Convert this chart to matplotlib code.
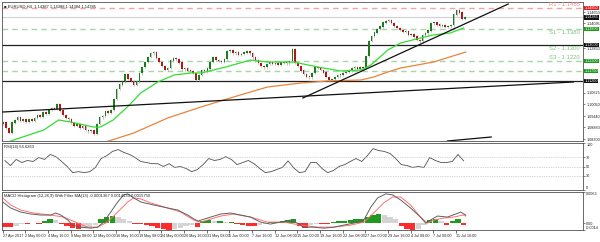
import matplotlib
matplotlib.use("Agg")
import matplotlib.pyplot as plt
import matplotlib.transforms as mtransforms

plt.rcParams["font.family"] = ["Liberation Sans", "DejaVu Sans"]

# EURUSD H4 - closes read every 2 bars (8h) off the chart
closes = [
    1.0915, 1.0885, 1.0862, 1.0912, 1.0925, 1.0938, 1.0920, 1.0928, 1.0915, 1.0930,
    1.0922, 1.0935, 1.0948, 1.0940, 1.0962, 1.0955, 1.0975, 1.0985, 1.0980, 1.1005,
    1.0972, 1.0950, 1.0935, 1.0928, 1.0910, 1.0895, 1.0902, 1.0885, 1.0892, 1.0875,
    1.0868, 1.0872, 1.0856, 1.0905, 1.0938, 1.0945, 1.0968, 1.0962, 1.0975, 1.1030,
    1.1080, 1.1102, 1.1118, 1.1155, 1.1132, 1.1120, 1.1102, 1.1118, 1.1158, 1.1190,
    1.1215, 1.1240, 1.1258, 1.1262, 1.1235, 1.1215, 1.1195, 1.1175, 1.1185, 1.1222,
    1.1235, 1.1228, 1.1212, 1.1178, 1.1182, 1.1172, 1.1168, 1.1160, 1.1125, 1.1150,
    1.1175, 1.1168, 1.1182, 1.1215, 1.1238, 1.1225, 1.1220, 1.1215, 1.1228, 1.1268,
    1.1272, 1.1258, 1.1262, 1.1250, 1.1255, 1.1262, 1.1270, 1.1258, 1.1238, 1.1222,
    1.1210, 1.1195, 1.1188, 1.1205, 1.1212, 1.1205, 1.1210, 1.1202, 1.1212, 1.1215,
    1.1208, 1.1218, 1.1280, 1.1210, 1.1195, 1.1172, 1.1155, 1.1142, 1.1138, 1.1160,
    1.1188, 1.1185, 1.1175, 1.1162, 1.1140, 1.1125, 1.1130, 1.1140, 1.1148, 1.1152,
    1.1160, 1.1165, 1.1172, 1.1185, 1.1188, 1.1182, 1.1190, 1.1185, 1.1245, 1.1320,
    1.1345, 1.1362, 1.1380, 1.1392, 1.1412, 1.1420, 1.1425, 1.1410, 1.1395, 1.1385,
    1.1375, 1.1365, 1.1368, 1.1352, 1.1355, 1.1342, 1.1325, 1.1318, 1.1350, 1.1358,
    1.1372, 1.1408, 1.1412, 1.1402, 1.1395, 1.1398, 1.1390, 1.1394, 1.1398, 1.1452,
    1.1472, 1.1462, 1.1432, 1.1438,
]
first_open = 1.0905

# moving averages (bar index, price)
ma_fast_bars = [0, 5.6, 29, 39.5, 48, 64, 69, 78, 88, 97.5, 109.5, 121, 133, 140, 157.5,
                175, 187, 205.5, 222.5, 238.7, 253, 260, 272, 281, 295, 304, 316, 325.5]
ma_fast = [1.0800, 1.0820, 1.0875, 1.0925, 1.0915, 1.0890, 1.0890, 1.0925, 1.0990, 1.1060,
           1.1115, 1.1150, 1.1160, 1.1160, 1.1190, 1.1225, 1.1215, 1.1215, 1.1190, 1.1170,
           1.1175, 1.1200, 1.1275, 1.1310, 1.1335, 1.1350, 1.1360, 1.1385]
ma_slow_bars = [69.2, 74.9, 92.5, 116.5, 140, 163, 187, 210.5, 229.5, 253, 262, 272, 281, 304.4, 327]
ma_slow = [1.0810, 1.0820, 1.0860, 1.0935, 1.0990, 1.1040, 1.1090, 1.1110, 1.1120, 1.1125,
           1.1140, 1.1165, 1.1185, 1.1215, 1.1265]

# support / resistance
levels = [1.1485, 1.1380, 1.1300, 1.1220, 1.1170, 1.1120]
level_names = ["R1 - 1.1485", "S1 - 1.1380", "S2 - 1.1300", "S3 - 1.1220", "", ""]
current_price = 1.14385

# trendlines (bar, price)
trend_long = ([0, 403], [1.0965, 1.1115])
trend_steep = ([212, 357], [1.1035, 1.1505])
trend_short = ([314, 345], [1.0820, 1.0840])

price_ticks = [1.14650, 1.14095, 1.12850, 1.10625, 1.10050, 1.09440, 1.08880, 1.08300]

# RSI and MACD histogram, one value per 4 bars
rsi = [62.8, 52, 65, 58.5, 62.8, 60.7, 69, 65, 75.6, 71,
       61, 50, 37, 39, 37, 39, 48, 67, 73, 82,
       86, 80, 75.6, 69, 60.7, 58.5, 56, 56, 50, 56,
       48, 50, 45.7, 39, 43.6, 54, 67, 62.8, 65, 71,
       65, 54, 58.5, 62.8, 56, 45.7, 37, 39, 43.6, 48,
       62, 47, 37, 39, 58.5, 58.5, 45.7, 37, 41.5, 50,
       54, 60.7, 67, 60.7, 73, 88, 84, 82, 77.7, 67,
       54, 52, 48, 50, 48, 69, 62.8, 58.5, 58.5, 60.7,
       75.6, 62]
hist = [-0.0008, -0.0008, -0.0006, -0.0002, -0.0002, 0.0001, -0.0002, 0.0004, 0.0008, 0.0006,
        -0.0002, -0.0006, -0.0010, -0.0012, -0.0010, -0.0008, -0.0004, 0.0008, 0.0012, 0.0014,
        0.0012, 0.0008, 0.0004, -0.0002, -0.0002, -0.0004, -0.0006, -0.0010, -0.0012, -0.0014,
        -0.0012, -0.0010, -0.0006, -0.0004, -0.0008, 0.0004, 0.0006, 0.0004, 0.0004, 0.0002,
        0.0002, -0.0002, -0.0004, -0.0006, -0.0006, -0.0004, -0.0002, 0.0002, 0.0002, 0.0004,
        0.0006, 0.0008, -0.0006, -0.0010, -0.0004, -0.0002, -0.0002, -0.0002, 0.0002, 0.0004,
        0.0004, 0.0006, 0.0008, 0.0008, 0.0012, 0.0016, 0.0018, 0.0016, 0.0012, 0.0008,
        -0.0006, -0.0012, -0.0014, -0.0012, -0.0004, 0.0006, 0.0008, 0.0004, -0.0004, 0.0004,
        0.0008, -0.0004]

macd_bars = [0, 5.6, 12.7, 19.8, 26.8, 33.9, 37.4, 41, 46, 49.4, 55, 62, 67, 71.3, 76.3,
             81.2, 85.5, 88.3, 92.5, 97.5, 106.6, 116.5, 123.6, 130.6, 137.7, 146.9, 154, 161,
             168, 175, 182, 189, 196, 203, 208, 212.6, 219.6, 226.7, 233.8, 240.8, 247.9, 255,
             260, 264.8, 270.5, 275.4, 281, 288, 295, 298.7, 302, 307, 314, 320, 323.4, 327]
macd_main = [0.00428, 0.00306, 0.00224, 0.00184, 0.00163, 0.00163, 0.00204, 0.00163, 0.00061,
             -0.00041, -0.00082, -0.00102, -0.00082, 0.00020, 0.00224, 0.00428, 0.00571,
             0.00592, 0.00510, 0.00428, 0.00367, 0.00306, 0.00265, 0.00163, 0.00040, 0.00122,
             0.00184, 0.00204, 0.00163, 0.00122, 0.00020, -0.00020, 0.00020, 0.00061, 0.00000,
             -0.00082, -0.00082, -0.00102, -0.00082, -0.00041, 0.00000, 0.00061, 0.00326,
             0.00510, 0.00592, 0.00571, 0.00469, 0.00306, 0.00122, 0.00000, 0.00061, 0.00143,
             0.00122, 0.00184, 0.00224, 0.00163]
signal_bars = [0, 5.6, 12.7, 21.9, 33.9, 43, 53, 60, 67, 74, 81.2, 88.3, 92.5, 97.5, 104.5,
               116.5, 125.7, 134.9, 139.8, 154, 163, 175, 187, 198.4, 210.5, 222.5, 233.8,
               245.8, 255, 262, 269, 275.4, 281, 288, 295, 300, 304.4, 311.4, 318.5, 325, 327]
macd_signal = [0.0051, 0.00367, 0.00265, 0.00204, 0.00163, 0.00122, 0.0, -0.00082, -0.00082,
               0.0002, 0.00224, 0.00428, 0.0051, 0.0049, 0.00408, 0.00306, 0.00224, 0.00061,
               0.0002, 0.00143, 0.00184, 0.00122, 0.0002, 0.0002, -0.00041, -0.00082, -0.00082,
               -0.00041, 0.0002, 0.00204, 0.00408, 0.0053, 0.0053, 0.00367, 0.00122, 0.0,
               0.00061, 0.00102, 0.00122, 0.00163, 0.00143]

date_labels = ["27 Apr 2017", "2 May 00:00", "4 May 16:00", "9 May 08:00", "12 May 00:00",
               "16 May 16:00", "19 May 08:00", "24 May 00:00", "26 May 16:00", "31 May 08:00",
               "5 Jun 00:00", "7 Jun 16:00", "12 Jun 08:00", "15 Jun 00:00", "19 Jun 16:00",
               "22 Jun 08:00", "27 Jun 00:00", "29 Jun 16:00", "4 Jul 08:00", "7 Jul 00:00",
               "11 Jul 16:00"]

W, H = 600, 242
fig = plt.figure(figsize=(W / 100, H / 100), dpi=100, facecolor="white")
FS = 2.7


def panel(top, bottom):
    a = fig.add_axes([2 / W, 1 - bottom / H, 581 / W, (bottom - top) / H])
    a.set_xlim(-0.5, 409.8)
    for s in a.spines.values():
        s.set_color("#505050")
        s.set_linewidth(0.6)
    a.yaxis.tick_right()
    a.tick_params(axis="y", labelsize=FS, length=1.5, width=0.4, pad=0.8, colors="#202020")
    a.set_xticks([])
    return a


ax = panel(2, 141)
ax2 = panel(143, 190)
ax3 = panel(192, 230)

# ---- main price panel
ax.set_ylim(1.0820, 1.1515)
opens = [first_open] + closes[:-1]
xs = [2 * i + 0.5 for i in range(len(closes))]
pad = 0.0007
lo = [min(o, c) - pad for o, c in zip(opens, closes)]
hi = [max(o, c) + pad for o, c in zip(opens, closes)]
ax.vlines(xs, lo, hi, color="#a8a8a8", lw=0.5, zorder=2)
body_col = ["#1d7a1d" if c >= o else "#b01818" for o, c in zip(opens, closes)]
ax.bar(xs, [abs(c - o) + 0.00015 for o, c in zip(opens, closes)],
       bottom=[min(o, c) for o, c in zip(opens, closes)], width=1.1, color=body_col, zorder=3)

ax.plot(ma_fast_bars, ma_fast, color="#33dd33", lw=0.9, zorder=4)
ax.plot(ma_slow_bars, ma_slow, color="#e8843a", lw=0.9, zorder=4)

lvl_style = [("#f4a4a4", "--"), ("#a8d6a8", "--"), ("#202020", "-"),
             ("#a8d6a8", "--"), ("#a8d6a8", "--"), ("#202020", "-")]
for p, (c, ls) in zip(levels, lvl_style):
    if ls == "--":
        ax.axhline(p, color=c, lw=1.0, ls=(0, (4, 3)), zorder=1)
    else:
        ax.axhline(p, color=c, lw=0.9, zorder=1)
ax.axhline(current_price, color="#d0d0d0", lw=0.8, zorder=1)

for tl in (trend_long, trend_steep, trend_short):
    ax.plot(tl[0], tl[1], color="#101010", lw=0.9, zorder=5)

trans = mtransforms.blended_transform_factory(ax.transAxes, ax.transData)
name_pos = ["bottom", "top", "top", "bottom"]
for p, name, va in zip(levels, level_names, name_pos):
    col = "#f08a8a" if name.startswith("R") else "#80c080"
    off = 0.0003 if va == "bottom" else -0.0004
    ax.text(0.995, p + off, name, transform=trans, fontsize=4.2, color=col, ha="right", va=va)

ax.set_yticks(price_ticks)
ax.set_yticklabels([f"{v:.5f}" for v in price_ticks])
box_col = ["#e02020", "#1a9a1a", "#101010", "#1a9a1a", "#1a9a1a", "#101010"]
for p, c in list(zip(levels, box_col)) + [(current_price, "#101010")]:
    ax.text(1.0025, p, f"{p:.5f}", transform=trans, fontsize=FS, color="white", ha="left", va="center",
            bbox=dict(boxstyle="square,pad=0.12", fc=c, ec="none"), clip_on=False)
ax.text(0.004, 0.985, "\u25a0 EURUSD,H4  1.14387 1.14388 1.14384 1.14385", transform=ax.transAxes,
        fontsize=3.0, va="top", color="#202020")

# ---- RSI panel
ax2.set_ylim(0, 100)
ax2.plot([4 * k + 1.5 for k in range(len(rsi))], rsi, color="#505050", lw=0.6)
for v in (30, 50, 70):
    ax2.axhline(v, color="#b0b0b0", lw=0.5, ls=(0, (1, 1.5)))
ax2.set_yticks([0, 30, 50, 70, 100])
ax2.set_yticklabels(["0", "30", "50", "70", "100"])
rl = ax2.get_yticklabels()
rl[0].set_verticalalignment("bottom")
rl[-1].set_verticalalignment("top")
ax2.text(0.004, 0.96, "RSI(14) 64.6263", transform=ax2.transAxes, fontsize=3.0, va="top", color="#202020")

# ---- MACD panel
ax3.set_ylim(-0.0014, 0.0063)
hcol = []
prev = 0.0
for h in hist:
    if h >= 0:
        hcol.append("#1f9a1f" if h >= prev else "#d4d4d4")
    else:
        hcol.append("#ff2a2a" if h <= prev else "#d4d4d4")
    prev = h
ax3.bar([4 * k + 1.5 for k in range(len(hist))], hist, width=3.8, color=hcol, zorder=1)
ax3.plot(macd_bars, macd_main, color="#606060", lw=0.7, zorder=3)
ax3.plot(signal_bars, macd_signal, color="#ff7070", lw=0.7, zorder=2)
ax3.set_yticks([-0.0014, 0, 0.0063])
ax3.set_yticklabels(["-0.0014", "0.00", "0.0063"])
ml = ax3.get_yticklabels()
ml[0].set_verticalalignment("bottom")
ml[-1].set_verticalalignment("top")
ax3.text(0.004, 0.95, "MACD Histogram (12,26,9) With Filter MA(13) -0.0001367 0.0014133 0.0015750",
         transform=ax3.transAxes, fontsize=3.0, va="top", color="#202020")

ax3.set_xticks([16 * i for i in range(len(date_labels))])
ax3.set_xticklabels(date_labels, fontsize=FS, ha="left", color="#202020")
ax3.tick_params(axis="x", length=2, width=0.4, pad=1)

fig.savefig("out.png", dpi=100)
